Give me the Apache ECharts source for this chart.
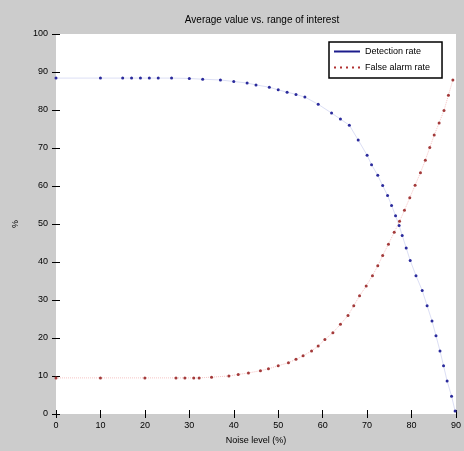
<!DOCTYPE html>
<html>
<head>
<meta charset="utf-8">
<script src="https://cdn.jsdelivr.net/npm/echarts@6/dist/echarts.min.js"></script>
<style>
  html, body { margin: 0; padding: 0; background: #cccccc; }
  #chart { width: 464px; height: 451px; }
</style>
</head>
<body>
<div id="chart"></div>
<script>
// values
var titleText = 'Average value vs. range of interest';
var xName = 'Noise level (%)';
var yName = '%';
var seriesNames = ['Detection rate', 'False alarm rate'];

var blueX = [0, 10, 15, 17, 19, 21, 23, 26, 30, 33, 37, 40, 43, 45, 48, 50, 52, 54, 56, 59, 62, 64, 66, 68, 70, 71, 72.4, 73.5, 74.6, 75.5, 76.4, 77.2, 77.9, 78.8, 79.7, 81, 82.4, 83.5, 84.6, 85.5, 86.4, 87.2, 88, 89, 89.8];
var blueY = [88.4, 88.4, 88.4, 88.4, 88.4, 88.4, 88.4, 88.4, 88.3, 88.1, 87.9, 87.5, 87.1, 86.6, 86.0, 85.3, 84.7, 84.1, 83.4, 81.5, 79.2, 77.6, 76.0, 72.1, 68.1, 65.6, 62.8, 60.1, 57.5, 54.9, 52.2, 49.6, 47.0, 43.7, 40.4, 36.4, 32.5, 28.5, 24.5, 20.6, 16.6, 12.7, 8.7, 4.7, 0.8];

var redX = [0, 10, 20, 27, 29, 31, 32.2, 35, 38.9, 41, 43.3, 46, 47.8, 50, 52.3, 54, 55.6, 57.5, 59, 60.5, 62.3, 64, 65.7, 67, 68.3, 69.8, 71.2, 72.4, 73.5, 74.8, 76.1, 77.3, 78.4, 79.6, 80.8, 82, 83.1, 84.1, 85.1, 86.2, 87.3, 88.3, 89.3];
var redY = [9.5, 9.5, 9.5, 9.5, 9.5, 9.5, 9.5, 9.7, 10.0, 10.4, 10.8, 11.4, 11.9, 12.7, 13.5, 14.4, 15.3, 16.6, 17.9, 19.6, 21.4, 23.6, 25.9, 28.5, 31.1, 33.7, 36.4, 39.0, 41.7, 44.7, 47.8, 50.7, 53.6, 56.9, 60.2, 63.5, 66.8, 70.1, 73.4, 76.6, 79.9, 83.9, 87.9];

var xTicks = [0, 10, 20, 30, 40, 50, 60, 70, 80, 90];
var yTicks = [0, 10, 20, 30, 40, 50, 60, 70, 80, 90, 100];

function pairs(xs, ys) {
  return xs.map(function (x, i) { return [x, ys[i]]; });
}

var font = 'Liberation Sans';
var chart = echarts.init(document.getElementById('chart'), null, { renderer: 'canvas' });

var hiddenAxis = {
  axisLine: { show: false },
  axisTick: { show: true, inside: true, length: 4, lineStyle: { color: '#000' } },
  axisLabel: { show: false },
  splitLine: { show: false }
};

var option = {
  backgroundColor: '#cccccc',
  animation: false,
  title: {
    text: titleText,
    left: 257, top: 10, textAlign: 'center',
    textStyle: { fontFamily: font, fontSize: 10, fontWeight: 'normal', color: '#000' }
  },
  legend: {
    data: [
      { name: seriesNames[0], icon: 'path://M0,0h26v2h-26z', itemStyle: { color: '#1c1c8c' } },
      { name: seriesNames[1], icon: 'path://M0,0h2v2h-2zM6,0h2v2h-2zM12,0h2v2h-2zM18,0h2v2h-2zM24,0h2v2h-2z', itemStyle: { color: '#b03030' } }
    ],
    orient: 'vertical',
    left: 329, top: 42,
    backgroundColor: '#fff',
    borderColor: '#000', borderWidth: 1.5,
    padding: [5, 12, 6, 5],
    itemGap: 7, itemWidth: 26, itemHeight: 2,
    textStyle: { fontFamily: font, fontSize: 9, color: '#000' }
  },
  grid: { left: 56, right: 5, top: 34, bottom: 37, backgroundColor: '#fff', show: true, borderWidth: 0 },
  xAxis: [{
    type: 'value', min: 0, max: 90, interval: 10,
    name: xName, nameLocation: 'middle', nameGap: 22,
    nameTextStyle: { fontFamily: font, fontSize: 9, color: '#000' },
    axisLine: { show: false },
    axisTick: { inside: true, length: 4, lineStyle: { color: '#000' } },
    axisLabel: { fontFamily: font, fontSize: 9, color: '#000', margin: 7,
      formatter: function (v) { return xTicks.indexOf(v) >= 0 ? String(v) : ''; } },
    splitLine: { show: false }
  }, Object.assign({ type: 'value', position: 'top', min: 0, max: 90, interval: 10 }, hiddenAxis)],
  yAxis: [{
    type: 'value', min: 0, max: 100, interval: 10,
    name: yName, nameLocation: 'middle', nameGap: 36,
    nameTextStyle: { fontFamily: font, fontSize: 9, color: '#000' },
    axisLine: { show: false },
    axisTick: { inside: true, length: 4, lineStyle: { color: '#000' } },
    axisLabel: { fontFamily: font, fontSize: 9, color: '#000', margin: 8,
      formatter: function (v) { return yTicks.indexOf(v) >= 0 ? String(v) : ''; } },
    splitLine: { show: false }
  }, Object.assign({ type: 'value', position: 'right', min: 0, max: 100, interval: 10 }, hiddenAxis)],
  series: [{
    name: seriesNames[0],
    type: 'line',
    data: pairs(blueX, blueY),
    symbol: 'circle', symbolSize: 3, showSymbol: true,
    lineStyle: { color: '#dcdff5', width: 1 },
    itemStyle: { color: '#2b2b9c' }
  }, {
    name: seriesNames[1],
    type: 'line',
    data: pairs(redX, redY),
    symbol: 'circle', symbolSize: 3, showSymbol: true,
    lineStyle: { color: '#f6c4c4', width: 1, type: 'dotted' },
    itemStyle: { color: '#a33a3a' }
  }]
};
chart.setOption(option);
</script>
</body>
</html>
